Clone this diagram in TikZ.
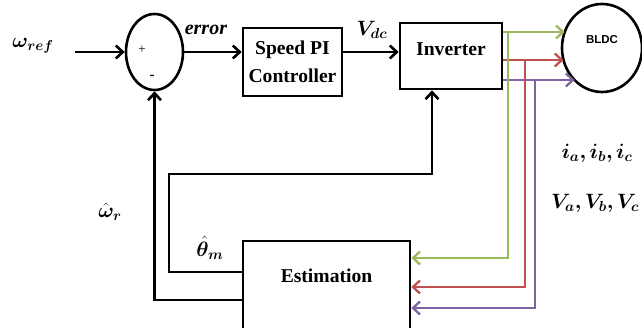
\documentclass[tikz,border=0pt]{standalone}
\usepackage{fontspec}
\setmainfont{Liberation Serif}
\newfontfamily\bldcfont{Liberation Sans}
\usepackage{amsmath,bm}
\usetikzlibrary{arrows.meta,shapes.geometric}
\definecolor{cgreen}{HTML}{9BBB59}
\definecolor{cred}{HTML}{C0504D}
\definecolor{cpurple}{HTML}{8064A2}
\begin{document}
\begin{tikzpicture}[x=1pt,y=-1pt,
  wire/.style={line width=2.6pt},
  cwire/.style={line width=2.3pt},
  arr/.style={wire,-{Straight Barb[length=7pt,width=13pt]}},
  carr/.style={cwire,-{Straight Barb[length=7pt,width=13pt]}},
  box/.style={draw,line width=2.6pt,rectangle,inner sep=0pt,font=\fontsize{19.6}{28}\selectfont\bfseries,align=center},
  lbl/.style={inner sep=0pt,font=\fontsize{20}{24}\selectfont}]
\useasboundingbox (0,0) rectangle (642,328);
\clip (0,0) rectangle (642,328);

% nodes
\node[draw,ellipse,line width=2.6pt,minimum width=57pt,minimum height=76pt,inner sep=0pt] (sum) at (154.5,52) {};
\node[font=\fontsize{13}{13}\selectfont] (plus) at (142,50) {+};
\node[font=\fontsize{15}{15}\selectfont\bfseries] (minus) at (152,77) {-};
\node[box,minimum width=99pt,minimum height=68pt] (pi) at (292.5,62) {Speed PI\\Controller};
\node[box,minimum width=102pt,minimum height=66pt,text height=13pt,text depth=13pt] (inv) at (451,56) {Inverter};
\node[draw,ellipse,line width=2.6pt,minimum width=80pt,minimum height=88pt,inner sep=0pt,
      font=\fontsize{11.5}{12}\selectfont\bldcfont\bfseries,text height=8.5pt,text depth=16.5pt] (bldc) at (602,48) {BLDC};
\node[box,minimum width=167pt,minimum height=91pt,text height=13pt,text depth=20pt] (est) at (326.5,286.5) {Estimation};

% labels
\node[lbl] (wref) at (33,46) {$\bm{\omega_{ref}}$};
\node[lbl] (err) at (206,30) {\textbf{\textit{error}}};
\node[lbl] (vdc) at (372,30) {$\bm{V_{dc}}$};
\node[lbl] (theta) at (210,248) {$\bm{\hat{\theta}_m}$};
\node[lbl] (wr) at (110,212) {$\bm{\hat{\omega}_r}$};
\node[lbl] (iabc) at (597,153) {$\bm{i_a, i_b, i_c}$};
\node[lbl] (vabc) at (595,203) {$\bm{V_a, V_b, V_c}$};

% coordinates
\coordinate (ws) at (75,52);
\coordinate (yg) at (0,32);
\coordinate (yr) at (0,60);
\coordinate (yp) at (0,80);
\coordinate (bg) at (564.7,32);
\coordinate (br) at (563.5,60);
\coordinate (bp) at (574.6,80);
\coordinate (jg) at (508,32);
\coordinate (jr) at (525,60);
\coordinate (jp) at (535,80);
\coordinate (eg) at (0,258);
\coordinate (er) at (0,287);
\coordinate (ep) at (0,308);
\coordinate (yt) at (0,272);
\coordinate (yw) at (0,300);
\coordinate (fl) at (169,174);
\coordinate (fr) at (432,174);

% connectors
\draw[arr] (ws) -- (sum.west);
\draw[arr] (sum.east) -- (sum.east -| pi.west);
\draw[arr] (pi.east |- sum.east) -- (inv.west |- sum.east);
\draw[carr,cgreen] (inv.east |- yg) -- (bg);
\draw[carr,cred] (inv.east |- yr) -- (br);
\draw[carr,cpurple] (inv.east |- yp) -- (bp);
\draw[carr,cgreen] (jg) |- (est.east |- eg);
\draw[carr,cred] (jr) |- (est.east |- er);
\draw[carr,cpurple] (jp) |- (est.east |- ep);
\draw[arr] (est.west |- yt) -| (fl) -- (fr) -- (fr |- inv.south);
\draw[arr] (est.west |- yw) -| (sum.south);
\end{tikzpicture}
\end{document}
